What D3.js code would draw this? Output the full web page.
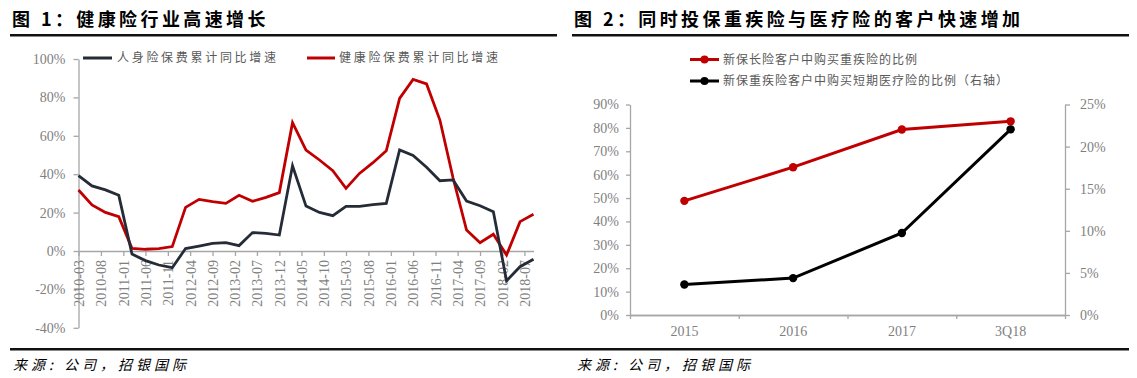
<!DOCTYPE html>
<html>
<head>
<meta charset="utf-8">
<script src="https://cdn.jsdelivr.net/npm/d3@7/dist/d3.min.js"></script>
<style>
  html, body { margin: 0; padding: 0; background: #fff; }
  svg { display: block; }
</style>
</head>
<body>
<svg id="chart" width="1137" height="378"></svg>
<script>
// ---------------- DATA ----------------
// Figure 1: quarterly cumulative YoY growth
const leftDates = [
  "2010-03","2010-06","2010-09","2010-12",
  "2011-03","2011-06","2011-09","2011-12",
  "2012-03","2012-06","2012-09","2012-12",
  "2013-03","2013-06","2013-09","2013-12",
  "2014-03","2014-06","2014-09","2014-12",
  "2015-03","2015-06","2015-09","2015-12",
  "2016-03","2016-06","2016-09","2016-12",
  "2017-03","2017-06","2017-09","2017-12",
  "2018-03","2018-06","2018-09"
];
const lifeGrowth = [
  39.2, 33.9, 31.8, 29.0,
  -1.6, -5.0, -7.3, -8.7,
  1.3, 2.6, 4.0, 4.4,
  2.8, 9.6, 9.2, 8.3,
  44.4, 23.4, 20.1, 18.4,
  23.2, 23.2, 24.2, 24.8,
  52.6, 49.8, 43.6, 36.6,
  37.0, 26.0, 23.6, 20.5,
  -15.5, -8.2, -4.3
];
const healthGrowth = [
  31.8, 24.0, 20.1, 17.9,
  1.4, 0.9, 1.2, 2.3,
  22.7, 26.9, 25.7, 24.8,
  29.0, 25.9, 27.9, 30.4,
  66.8, 52.6, 47.4, 41.8,
  32.6, 40.4, 46.0, 52.2,
  79.5, 89.4, 87.0, 68.2,
  38.0, 10.9, 4.3, 8.7,
  -2.1, 15.3, 19.1
];
const leftTickLabels = [
  "2010-03","2010-08","2011-01","2011-06","2011-11","2012-04","2012-09",
  "2013-02","2013-07","2013-12","2014-05","2014-10","2015-03","2015-08",
  "2016-01","2016-06","2016-11","2017-04","2017-09","2018-02","2018-07"
];
const leftYTicks = [-40, -20, 0, 20, 40, 60, 80, 100];
const leftSeriesNames = ["人身险保费累计同比增速", "健康险保费累计同比增速"];

// Figure 2
const rightCats = ["2015", "2016", "2017", "3Q18"];
const ciShare = [48.8, 63.2, 79.3, 82.8];        // left axis
const medicalShare = [3.63, 4.38, 9.74, 22.05];  // right axis
const rightYTicksL = [0, 10, 20, 30, 40, 50, 60, 70, 80, 90];
const rightYTicksR = [0, 5, 10, 15, 20, 25];
const rightSeriesNames = ["新保长险客户中购买重疾险的比例", "新保重疾险客户中购买短期医疗险的比例（右轴）"];

const titles = ["图 1：健康险行业高速增长", "图 2：同时投保重疾险与医疗险的客户快速增加"];
const sourceText = "来源: 公司，招银国际";

// ---------------- STYLE ----------------
const RED = "#C00000";
const NAVY = "#252c37";
const AXIS = "#a6a6a6";
const LABEL = "#7f7f7f";
const LEG = "#595959";
const SERIF = "'Liberation Serif', 'DejaVu Serif', serif";
const CJK = "'Noto Sans CJK SC', 'Noto Sans', sans-serif";

const svg = d3.select("#chart");
const parse = d3.timeParse("%Y-%m");
const fmt = d3.timeFormat("%Y-%m");

// ---------------- HEADERS / FOOTERS ----------------
svg.append("text").attr("x", 12).attr("y", 26)
  .attr("font-family", CJK).attr("font-weight", 700).attr("font-size", 18)
  .attr("letter-spacing", 3.4).attr("fill", "#000").text(titles[0]);
svg.append("text").attr("x", 574).attr("y", 26)
  .attr("font-family", CJK).attr("font-weight", 700).attr("font-size", 18)
  .attr("letter-spacing", 3.4).attr("fill", "#000").text(titles[1]);

svg.append("rect").attr("x", 10).attr("y", 34).attr("width", 547).attr("height", 2.5).attr("fill", "#111");
svg.append("rect").attr("x", 572).attr("y", 34).attr("width", 557).attr("height", 2.5).attr("fill", "#111");
svg.append("rect").attr("x", 10).attr("y", 348).attr("width", 1119).attr("height", 2.5).attr("fill", "#111");

svg.append("text").attr("x", 13).attr("y", 370)
  .attr("font-family", CJK).attr("font-style", "italic").attr("font-size", 14)
  .attr("letter-spacing", 4).attr("fill", "#000").text(sourceText);
svg.append("text").attr("x", 577).attr("y", 370)
  .attr("font-family", CJK).attr("font-style", "italic").attr("font-size", 14)
  .attr("letter-spacing", 4).attr("fill", "#000").text(sourceText);

// ---------------- LEFT CHART ----------------
const xL = d3.scaleTime()
  .domain([parse(leftDates[0]), parse(leftDates[leftDates.length - 1])])
  .range([78.5, 533.5]);
const yL = d3.scaleLinear().domain([-40, 100]).range([327.8, 59]);

const gL = svg.append("g");

// y axis
const yAxisL = gL.append("g").attr("transform", `translate(${xL.range()[0]},0)`)
  .call(d3.axisLeft(yL).tickValues(leftYTicks).tickFormat(d => d + "%").tickSize(5).tickSizeOuter(0).tickPadding(8));
// x axis at 0
const xAxisL = gL.append("g").attr("transform", `translate(0,${yL(0)})`)
  .call(d3.axisBottom(xL).tickValues(leftTickLabels.map(parse)).tickFormat(fmt).tickSize(5).tickSizeOuter(0));
xAxisL.selectAll("text")
  .attr("transform", "rotate(-90)")
  .attr("text-anchor", "end")
  .attr("x", -9).attr("y", 0).attr("dy", "0.35em");

[yAxisL, xAxisL].forEach(a => {
  a.selectAll("path, line").attr("stroke", AXIS).attr("stroke-width", 1.3);
  a.selectAll("text").attr("fill", LABEL).attr("font-family", SERIF).attr("font-size", 14);
});

const lineL = vals => d3.line()
  .x((d, i) => xL(parse(leftDates[i])))
  .y(d => yL(d))(vals);

gL.append("path").attr("d", lineL(healthGrowth))
  .attr("fill", "none").attr("stroke", RED).attr("stroke-width", 2.8).attr("stroke-linejoin", "miter");
gL.append("path").attr("d", lineL(lifeGrowth))
  .attr("fill", "none").attr("stroke", NAVY).attr("stroke-width", 2.8).attr("stroke-linejoin", "miter");

// legend
const legL = [
  { x1: 83, x2: 112, tx: 117, color: NAVY, name: leftSeriesNames[0] },
  { x1: 307, x2: 335, tx: 339, color: RED, name: leftSeriesNames[1] }
];
legL.forEach(l => {
  gL.append("line").attr("x1", l.x1).attr("x2", l.x2).attr("y1", 58).attr("y2", 58)
    .attr("stroke", l.color).attr("stroke-width", 3);
  gL.append("text").attr("x", l.tx).attr("y", 58).attr("dy", "0.36em")
    .attr("font-family", CJK).attr("font-size", 12).attr("letter-spacing", 2.7)
    .attr("fill", LEG).text(l.name);
});

// ---------------- RIGHT CHART ----------------
const xR = d3.scaleBand().domain(rightCats).range([630, 1065]);
const yR1 = d3.scaleLinear().domain([0, 90]).range([315, 104.5]);
const yR2 = d3.scaleLinear().domain([0, 25]).range([315, 104.5]);

const gR = svg.append("g");

const axL = gR.append("g").attr("transform", `translate(${xR.range()[0]},0)`)
  .call(d3.axisLeft(yR1).tickValues(rightYTicksL).tickFormat(d => d + "%").tickSize(4).tickSizeOuter(0).tickPadding(7));
const axR = gR.append("g").attr("transform", `translate(${xR.range()[1]},0)`)
  .call(d3.axisRight(yR2).tickValues(rightYTicksR).tickFormat(d => d + "%").tickSize(5).tickSizeOuter(0).tickPadding(10));
// category labels
const axX = gR.append("g").attr("transform", `translate(0,${yR1(0)})`)
  .call(d3.axisBottom(xR).tickSize(0).tickPadding(11).tickSizeOuter(0));
// boundary ticks
const boundary = d3.scaleLinear().domain([0, rightCats.length]).range(xR.range());
const axXt = gR.append("g").attr("transform", `translate(0,${yR1(0)})`)
  .call(d3.axisBottom(boundary).ticks(rightCats.length).tickFormat("").tickSize(4).tickSizeOuter(0));

[axL, axR, axX, axXt].forEach(a => {
  a.selectAll("path, line").attr("stroke", AXIS).attr("stroke-width", 1.3);
  a.selectAll("text").attr("fill", LABEL).attr("font-family", SERIF).attr("font-size", 14);
});

const cx = c => xR(c) + xR.bandwidth() / 2;

gR.append("path")
  .attr("d", d3.line().x((d, i) => cx(rightCats[i])).y(d => yR1(d))(ciShare))
  .attr("fill", "none").attr("stroke", RED).attr("stroke-width", 3);
gR.selectAll("circle.ci").data(ciShare).join("circle").attr("class", "ci")
  .attr("cx", (d, i) => cx(rightCats[i])).attr("cy", d => yR1(d)).attr("r", 4.2).attr("fill", RED);

gR.append("path")
  .attr("d", d3.line().x((d, i) => cx(rightCats[i])).y(d => yR2(d))(medicalShare))
  .attr("fill", "none").attr("stroke", "#000").attr("stroke-width", 3);
gR.selectAll("circle.med").data(medicalShare).join("circle").attr("class", "med")
  .attr("cx", (d, i) => cx(rightCats[i])).attr("cy", d => yR2(d)).attr("r", 4.2).attr("fill", "#000");

// legend
const legR = [
  { y: 59.5, color: RED, name: rightSeriesNames[0] },
  { y: 81, color: "#000", name: rightSeriesNames[1] }
];
legR.forEach(l => {
  gR.append("line").attr("x1", 690).attr("x2", 719).attr("y1", l.y).attr("y2", l.y)
    .attr("stroke", l.color).attr("stroke-width", 3);
  gR.append("circle").attr("cx", 704.5).attr("cy", l.y).attr("r", 4).attr("fill", l.color);
  gR.append("text").attr("x", 723).attr("y", l.y).attr("dy", "0.36em")
    .attr("font-family", CJK).attr("font-size", 12).attr("letter-spacing", 1)
    .attr("fill", LEG).text(l.name);
});
</script>
</body>
</html>
